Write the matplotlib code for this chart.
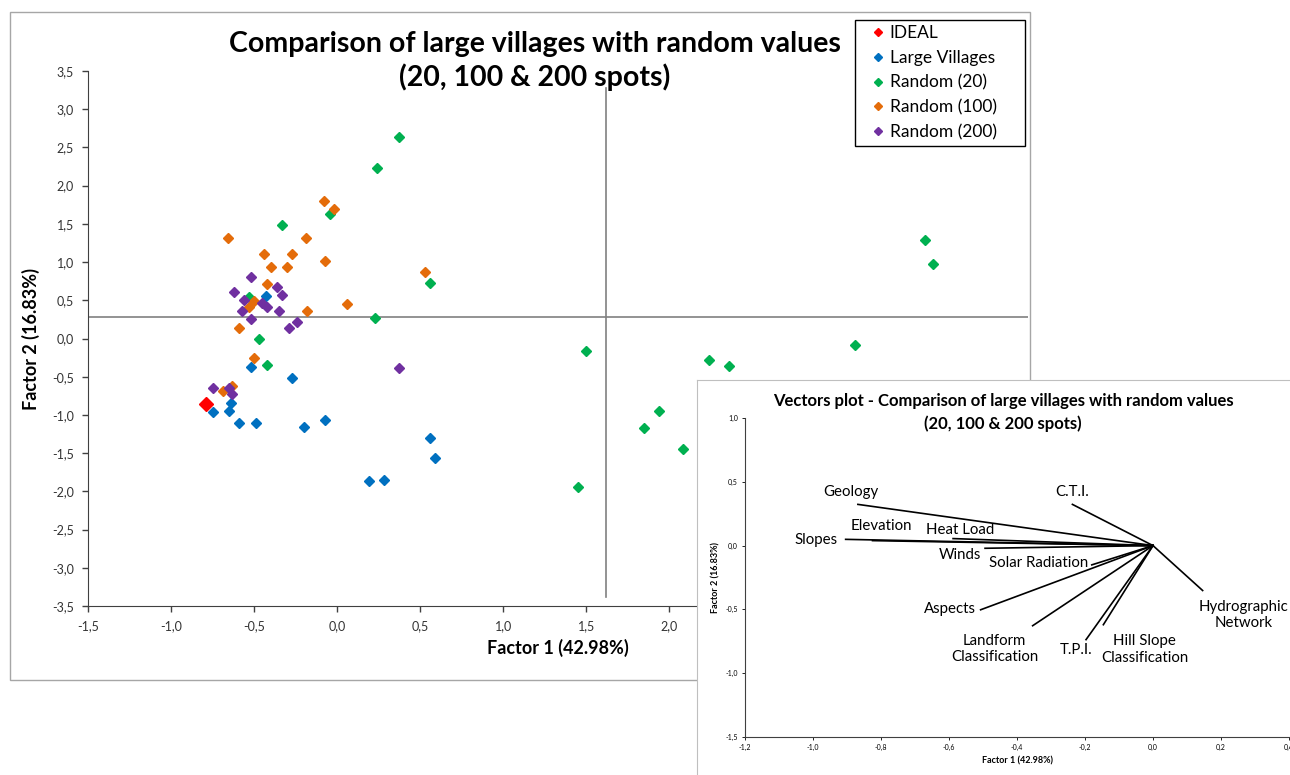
import matplotlib
matplotlib.use("Agg")
import matplotlib.pyplot as plt
import numpy as np
from matplotlib.lines import Line2D
from matplotlib.patches import Rectangle

plt.rcParams['font.family'] = ['Lato', 'DejaVu Sans']

# Main chart data (Factor 1, Factor 2)
ideal_x = [-0.79]
ideal_y = [-0.86]

villages_x = [-0.52, -0.27, -0.64, -0.75, -0.65, -0.59, -0.49, -0.20, -0.07,
              0.56, 0.59, 0.19, 0.28, -0.43]
villages_y = [-0.37, -0.52, -0.84, -0.96, -0.95, -1.11, -1.10, -1.16, -1.06,
              -1.30, -1.56, -1.86, -1.85, 0.55]

rand20_x = [0.37, 0.24, -0.33, -0.04, 0.56, 0.23, -0.47, -0.53, -0.42, 1.50,
            1.85, 1.45, 3.54, 3.59, 3.12, 2.24, 2.36, 1.94, 2.08]
rand20_y = [2.63, 2.23, 1.49, 1.63, 0.73, 0.27, -0.01, 0.54, -0.35, -0.17,
            -1.17, -1.94, 1.29, 0.98, -0.08, -0.28, -0.36, -0.95, -1.45]

rand100_x = [-0.66, -0.08, -0.02, -0.19, -0.44, -0.27, -0.40, -0.30, -0.07,
             0.53, -0.42, -0.50, -0.53, 0.06, -0.18, -0.59, -0.50, -0.69, -0.63]
rand100_y = [1.31, 1.80, 1.70, 1.31, 1.11, 1.11, 0.93, 0.94, 1.02,
             0.87, 0.71, 0.49, 0.41, 0.45, 0.36, 0.14, -0.26, -0.69, -0.62]

rand200_x = [-0.52, -0.62, -0.56, -0.36, -0.33, -0.45, -0.42, -0.57, -0.35,
             -0.52, -0.24, -0.29, -0.75, -0.65, -0.63, 0.37]
rand200_y = [0.80, 0.61, 0.50, 0.67, 0.57, 0.46, 0.41, 0.36, 0.36,
             0.25, 0.22, 0.14, -0.65, -0.65, -0.72, -0.39]

# reference (mean) lines
hline_x = [-1.5, 4.16]
hline_y = [0.28, 0.28]
vline_x = [1.62, 1.62]
vline_y = [3.28, -3.38]

# Vectors plot data
vec_names = ['Geology', 'C.T.I.', 'Slopes', 'Elevation', 'Heat Load', 'Winds',
             'Solar Radiation', 'Aspects', 'Landform\nClassification', 'T.P.I.',
             'Hill Slope\nClassification', 'Hydrographic\nNetwork']
vec_x = [-0.868, -0.237, -0.904, -0.825, -0.588, -0.494, -0.180, -0.507,
         -0.354, -0.197, -0.146, 0.146]
vec_y = [0.323, 0.323, 0.049, 0.039, 0.055, -0.021, -0.151, -0.503,
         -0.628, -0.737, -0.620, -0.352]
lab_x = [-0.890, -0.239, -0.992, -0.800, -0.566, -0.569, -0.336, -0.597,
         -0.466, -0.225, -0.025, 0.267]
lab_y = [0.422, 0.422, 0.044, 0.154, 0.122, -0.073, -0.138, -0.497,
         -0.810, -0.815, -0.815, -0.542]

W, H = 1290, 775
fig = plt.figure(figsize=(12.9, 7.75), dpi=100)


def fx(px):
    return px / W


def fy(py):
    return 1 - py / H


def comma(v, pos=None):
    v = round(v, 1)
    if v == 0:
        v = 0.0
    return f"{v:.1f}".replace('.', ',')


# outer frame of the main chart
fig.add_artist(Rectangle((fx(10), fy(680)), fx(1030) - fx(10), fy(12) - fy(680),
                         transform=fig.transFigure, fill=False, ec='#a6a6a6', lw=1, zorder=1))

ax = fig.add_axes([fx(88), fy(606), fx(1028) - fx(88), fy(71) - fy(606)])
ax.set_xlim(-1.5, 4.16)
ax.set_ylim(-3.5, 3.5)
ax.set_xticks(np.arange(-1.5, 4.01, 0.5))
ax.set_yticks(np.arange(-3.5, 3.51, 0.5))
ax.xaxis.set_major_formatter(comma)
ax.yaxis.set_major_formatter(comma)
ax.tick_params(labelsize=9, direction='out', length=4, width=1, color='#404040',
               labelcolor='#333333', pad=6)
for s in ['top', 'right']:
    ax.spines[s].set_visible(False)
for s in ['left', 'bottom']:
    ax.spines[s].set_color('#404040')

ax.plot(hline_x, hline_y, color='#808080', lw=1.2, zorder=1)
ax.plot(vline_x, vline_y, color='#808080', lw=1.2, zorder=1)

ms = 5.3
ax.plot(ideal_x, ideal_y, 'D', color='#ff0000', ms=6.8, ls='none', zorder=5)
ax.plot(villages_x, villages_y, 'D', color='#0070c0', ms=ms, ls='none', zorder=3)
ax.plot(rand20_x, rand20_y, 'D', color='#00b050', ms=ms, ls='none', zorder=3)
ax.plot(rand100_x, rand100_y, 'D', color='#e46c0a', ms=ms, ls='none', zorder=3)
ax.plot(rand200_x, rand200_y, 'D', color='#7030a0', ms=ms, ls='none', zorder=4)

ax.set_xlabel('Factor 1 (42.98%)', fontsize=13, fontweight='bold', labelpad=5)
ax.set_ylabel('Factor 2 (16.83%)', fontsize=13, fontweight='bold', labelpad=9)

fig.text(fx(535), fy(61), 'Comparison of large villages with random values\n(20, 100 & 200 spots)',
         ha='center', va='center', fontsize=20.5, fontweight='bold', linespacing=1.25)

# legend: box drawn separately to match the wide frame
fig.add_artist(Rectangle((fx(855), fy(146)), fx(1025) - fx(855), fy(20) - fy(146),
                         transform=fig.transFigure, fill=True, fc='white', ec='black',
                         lw=1, zorder=9))
handles = [Line2D([], [], marker='D', ls='none', color=c, ms=4)
           for c in ['#ff0000', '#0070c0', '#00b050', '#e46c0a', '#7030a0']]
labels = ['IDEAL', 'Large Villages', 'Random (20)', 'Random (100)', 'Random (200)']
leg = fig.legend(handles, labels, loc='upper left', bbox_to_anchor=(fx(855), fy(20)),
                 bbox_transform=fig.transFigure, fontsize=12.5, frameon=False,
                 handlelength=2.0, handletextpad=-0.3, labelspacing=0.5,
                 borderpad=0.3, borderaxespad=0)
leg.set_zorder(10)

# inset background panel
bg = fig.add_axes([fx(697), 0, 1 - fx(697), fy(380)], zorder=11)
bg.set_xticks([])
bg.set_yticks([])
for s in ['right', 'bottom']:
    bg.spines[s].set_visible(False)
for s in ['left', 'top']:
    bg.spines[s].set_color('#bfbfbf')

inset = fig.add_axes([fx(745), fy(737), fx(1289) - fx(745), fy(418) - fy(737)], zorder=12)
inset.patch.set_alpha(0)
inset.set_xlim(-1.2, 0.4)
inset.set_ylim(-1.5, 1.0)
inset.set_xticks(np.arange(-1.2, 0.41, 0.2))
inset.set_yticks(np.arange(-1.5, 1.01, 0.5))
inset.xaxis.set_major_formatter(comma)
inset.yaxis.set_major_formatter(comma)
inset.tick_params(labelsize=5, direction='out', length=2, width=0.6, pad=3)
for s in ['top', 'right']:
    inset.spines[s].set_visible(False)
for s in ['left', 'bottom']:
    inset.spines[s].set_color('#404040')
    inset.spines[s].set_linewidth(0.8)

for name, vx, vy, lx, ly in zip(vec_names, vec_x, vec_y, lab_x, lab_y):
    inset.plot([0, vx], [0, vy], color='black', lw=1.2)
    inset.text(lx, ly, name, ha='center', va='center', fontsize=10.8, linespacing=1.2)

inset.set_xlabel('Factor 1 (42.98%)', fontsize=6.5, fontweight='bold', labelpad=4)
inset.set_ylabel('Factor 2 (16.83%)', fontsize=6.5, fontweight='bold', labelpad=4)

inset.set_title('Vectors plot - Comparison of large villages with random values\n(20, 100 & 200 spots)',
                fontsize=12, fontweight='bold', linespacing=1.45, x=(1003 - 745) / (1289 - 745),
                y=1.0, pad=-8)

fig.savefig('out.png', dpi=100)
